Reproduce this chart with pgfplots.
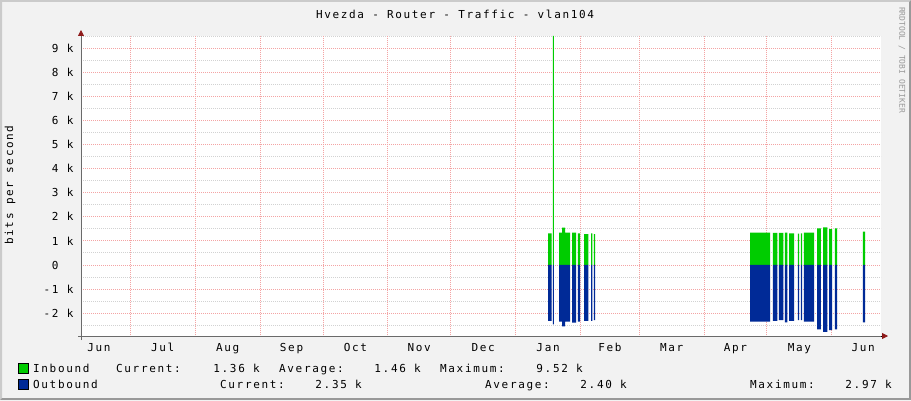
\documentclass[border=0pt]{standalone}
\usepackage{pgfplots}
\pgfplotsset{compat=1.18}
\usepackage{fontspec}
\usetikzlibrary{arrows.meta}
\setmainfont{DejaVu Sans}
\newfontfamily\rrdmono[LetterSpace=15]{DejaVu Sans Mono}
\newfontfamily\rrdplain{DejaVu Sans Mono}
\newcommand\rrd{\rrdmono\fontsize{11}{13}\selectfont}

\definecolor{rrdback}{HTML}{F2F2F2}
\definecolor{shadea}{HTML}{CBCBCB}
\definecolor{shadeb}{HTML}{999999}
\definecolor{mgrid}{HTML}{F4A4A4}
\definecolor{mingrid}{HTML}{D2D2D2}
\definecolor{axiscol}{HTML}{6A6A6A}
\definecolor{arrowcol}{HTML}{8E1A1A}
\definecolor{inbound}{HTML}{00CC00}
\definecolor{outbound}{HTML}{002A97}

\begin{document}
\begin{tikzpicture}
\path[use as bounding box] (0,0) rectangle (911pt,400pt);
% frame
\fill[rrdback] (0,0) rectangle (911pt,400pt);
\fill[shadea] (0,400pt) -- (911pt,400pt) -- (909pt,398pt) -- (2pt,398pt) -- (2pt,2pt) -- (0,0) -- cycle;
\fill[shadeb] (0,0) -- (911pt,0) -- (911pt,400pt) -- (909pt,398pt) -- (909pt,2pt) -- (2pt,2pt) -- cycle;

\begin{axis}[
  at={(81pt,64pt)}, anchor=south west,
  scale only axis, width=800pt, height=300pt,
  axis background/.style={fill=white},
  xmin=6.45, xmax=388.5, ymin=-2.955, ymax=9.514,
  unbounded coords=jump,
  axis x line=bottom, axis y line=left,
  axis line style={line width=0.8pt},
  x axis line style={-{Triangle[length=6pt,width=6pt,color=arrowcol]}, shorten >=-7pt},
  y axis line style={-{Triangle[length=6pt,width=6pt,color=arrowcol]}, shorten >=-6pt},
  xtick={15,45.5,76.5,107,137.5,168,198.5,229.5,259,288.5,319,349.5,380},
  xticklabels={Jun,Jul,Aug,Sep,Oct,Nov,Dec,Jan,Feb,Mar,Apr,May,Jun},
  ytick={-2,-1,0,1,2,3,4,5,6,7,8,9},
  yticklabels={-2 k,-1 k,0\phantom{ k},1 k,2 k,3 k,4 k,5 k,6 k,7 k,8 k,9 k},
  major tick length=0pt, minor tick length=0pt,
  tick label style={font=\rrd, text=black},
  xticklabel style={yshift=-4pt},
  yticklabel style={xshift=-4pt},
]
% grid: grey dotted half steps, red dotted whole steps and month starts
\pgfplotsinvokeforeach{-2.5,-1.5,-0.5,0.5,1.5,2.5,3.5,4.5,5.5,6.5,7.5,8.5,9.5}{
  \draw[mingrid, line width=0.8pt, dash pattern=on 1pt off 1pt]
    (axis cs:6.45,#1) -- (axis cs:388.5,#1);
}
\pgfplotsinvokeforeach{-2,-1,0,1,2,3,4,5,6,7,8,9}{
  \draw[mgrid, line width=0.8pt, dash pattern=on 1pt off 1pt]
    (axis cs:5.5,#1) -- (axis cs:388.5,#1);
}
\pgfplotsinvokeforeach{30,61,92,122,153,183,214,245,273,304,334,365}{
  \draw[mgrid, line width=0.8pt, dash pattern=on 1pt off 1pt]
    (axis cs:#1,-3.1) -- (axis cs:#1,9.514);
}
\addplot[const plot, fill=inbound, draw=none] coordinates {
(229.5,0) (229.5,1.31) (231.17,0) (231.2,nan)
(231.79,0) (231.79,9.52) (232.27,0) (232.3,nan)
(234.75,0) (234.75,1.34) (236.19,1.55) (237.62,1.34) (240.0,0) (240.1,nan)
(240.96,0) (240.96,1.34) (242.87,0) (242.9,nan)
(243.68,0) (243.68,1.31) (244.78,0) (244.8,nan)
(246.69,0) (246.69,1.28) (248.75,0) (248.8,nan)
(250.04,0) (250.04,1.31) (250.65,0) (250.7,nan)
(251.32,0) (251.32,1.28) (251.95,0) (252.0,nan)
(325.98,0) (325.98,1.34) (335.53,0) (335.6,nan)
(336.82,0) (336.82,1.33) (339.02,0) (339.1,nan)
(339.69,0) (339.69,1.33) (341.89,0) (341.9,nan)
(342.55,0) (342.55,1.34) (343.8,0) (343.9,nan)
(344.6,0) (344.6,1.31) (346.99,0) (347.0,nan)
(348.76,0) (348.76,1.30) (349.38,0) (349.4,nan)
(350.19,0) (350.19,1.31) (350.81,0) (350.9,nan)
(351.63,0) (351.63,1.34) (356.55,0) (356.6,nan)
(357.98,0) (357.98,1.52) (359.75,0) (359.8,nan)
(360.84,0) (360.84,1.56) (362.9,0) (363.0,nan)
(363.71,0) (363.71,1.49) (365.14,0) (365.2,nan)
(366.43,0) (366.43,1.52) (367.53,0) (367.6,nan)
(379.81,0) (379.81,1.38) (380.9,0)
};
\addplot[const plot, fill=outbound, draw=none] coordinates {
(229.5,0) (229.5,-2.33) (231.17,0) (231.2,nan)
(231.79,0) (231.79,-2.47) (232.27,0) (232.3,nan)
(234.75,0) (234.75,-2.36) (236.19,-2.55) (237.62,-2.36) (240.0,0) (240.1,nan)
(240.96,0) (240.96,-2.40) (242.87,0) (242.9,nan)
(243.68,0) (243.68,-2.36) (244.78,0) (244.8,nan)
(246.69,0) (246.69,-2.33) (248.75,0) (248.8,nan)
(250.04,0) (250.04,-2.33) (250.65,0) (250.7,nan)
(251.32,0) (251.32,-2.29) (251.95,0) (252.0,nan)
(325.98,0) (325.98,-2.36) (335.53,0) (335.6,nan)
(336.82,0) (336.82,-2.33) (339.02,0) (339.1,nan)
(339.69,0) (339.69,-2.29) (341.89,0) (341.9,nan)
(342.55,0) (342.55,-2.39) (343.8,0) (343.9,nan)
(344.6,0) (344.6,-2.33) (346.99,0) (347.0,nan)
(348.76,0) (348.76,-2.30) (349.38,0) (349.4,nan)
(350.19,0) (350.19,-2.30) (350.81,0) (350.9,nan)
(351.63,0) (351.63,-2.36) (356.55,0) (356.6,nan)
(357.98,0) (357.98,-2.68) (359.75,0) (359.8,nan)
(360.84,0) (360.84,-2.78) (362.9,0) (363.0,nan)
(363.71,0) (363.71,-2.71) (365.14,0) (365.2,nan)
(366.43,0) (366.43,-2.68) (367.53,0) (367.6,nan)
(379.81,0) (379.81,-2.39) (380.9,0)
};
\end{axis}
% axis lines in rrdtool grey, over the black ones
\draw[axiscol, line width=0.8pt] (81pt,60pt) -- (81pt,364pt);
\draw[axiscol, line width=0.8pt] (78pt,64pt) -- (881pt,64pt);

% title, axis label, watermark
\node[font=\rrd, anchor=base] at (455pt,381pt) {Hvezda - Router - Traffic - vlan104};
\node[font=\rrd, rotate=90] at (10pt,215pt) {bits per second};
\node[font=\rrdplain\fontsize{8}{9}\selectfont, text=black!40, rotate=-90] at (902pt,340pt) {RRDTOOL / TOBI OETIKER};

% legend
\draw[black, line width=0.6pt, fill=inbound] (18pt,27pt) rectangle (28pt,37pt);
\draw[black, line width=0.6pt, fill=outbound] (18pt,11pt) rectangle (28pt,21pt);
\begin{scope}[every node/.style={font=\rrd, inner sep=0pt}]
\node[anchor=base west] at (33pt,28pt) {Inbound};
\node[anchor=base west] at (116pt,28pt) {Current:};
\node[anchor=base east] at (260pt,28pt) {1.36 k};
\node[anchor=base west] at (279pt,28pt) {Average:};
\node[anchor=base east] at (421pt,28pt) {1.46 k};
\node[anchor=base west] at (440pt,28pt) {Maximum:};
\node[anchor=base east] at (583pt,28pt) {9.52 k};
\node[anchor=base west] at (33pt,12pt) {Outbound};
\node[anchor=base west] at (220pt,12pt) {Current:};
\node[anchor=base east] at (362pt,12pt) {2.35 k};
\node[anchor=base west] at (485pt,12pt) {Average:};
\node[anchor=base east] at (627pt,12pt) {2.40 k};
\node[anchor=base west] at (750pt,12pt) {Maximum:};
\node[anchor=base east] at (892pt,12pt) {2.97 k};
\end{scope}
\end{tikzpicture}
\end{document}
